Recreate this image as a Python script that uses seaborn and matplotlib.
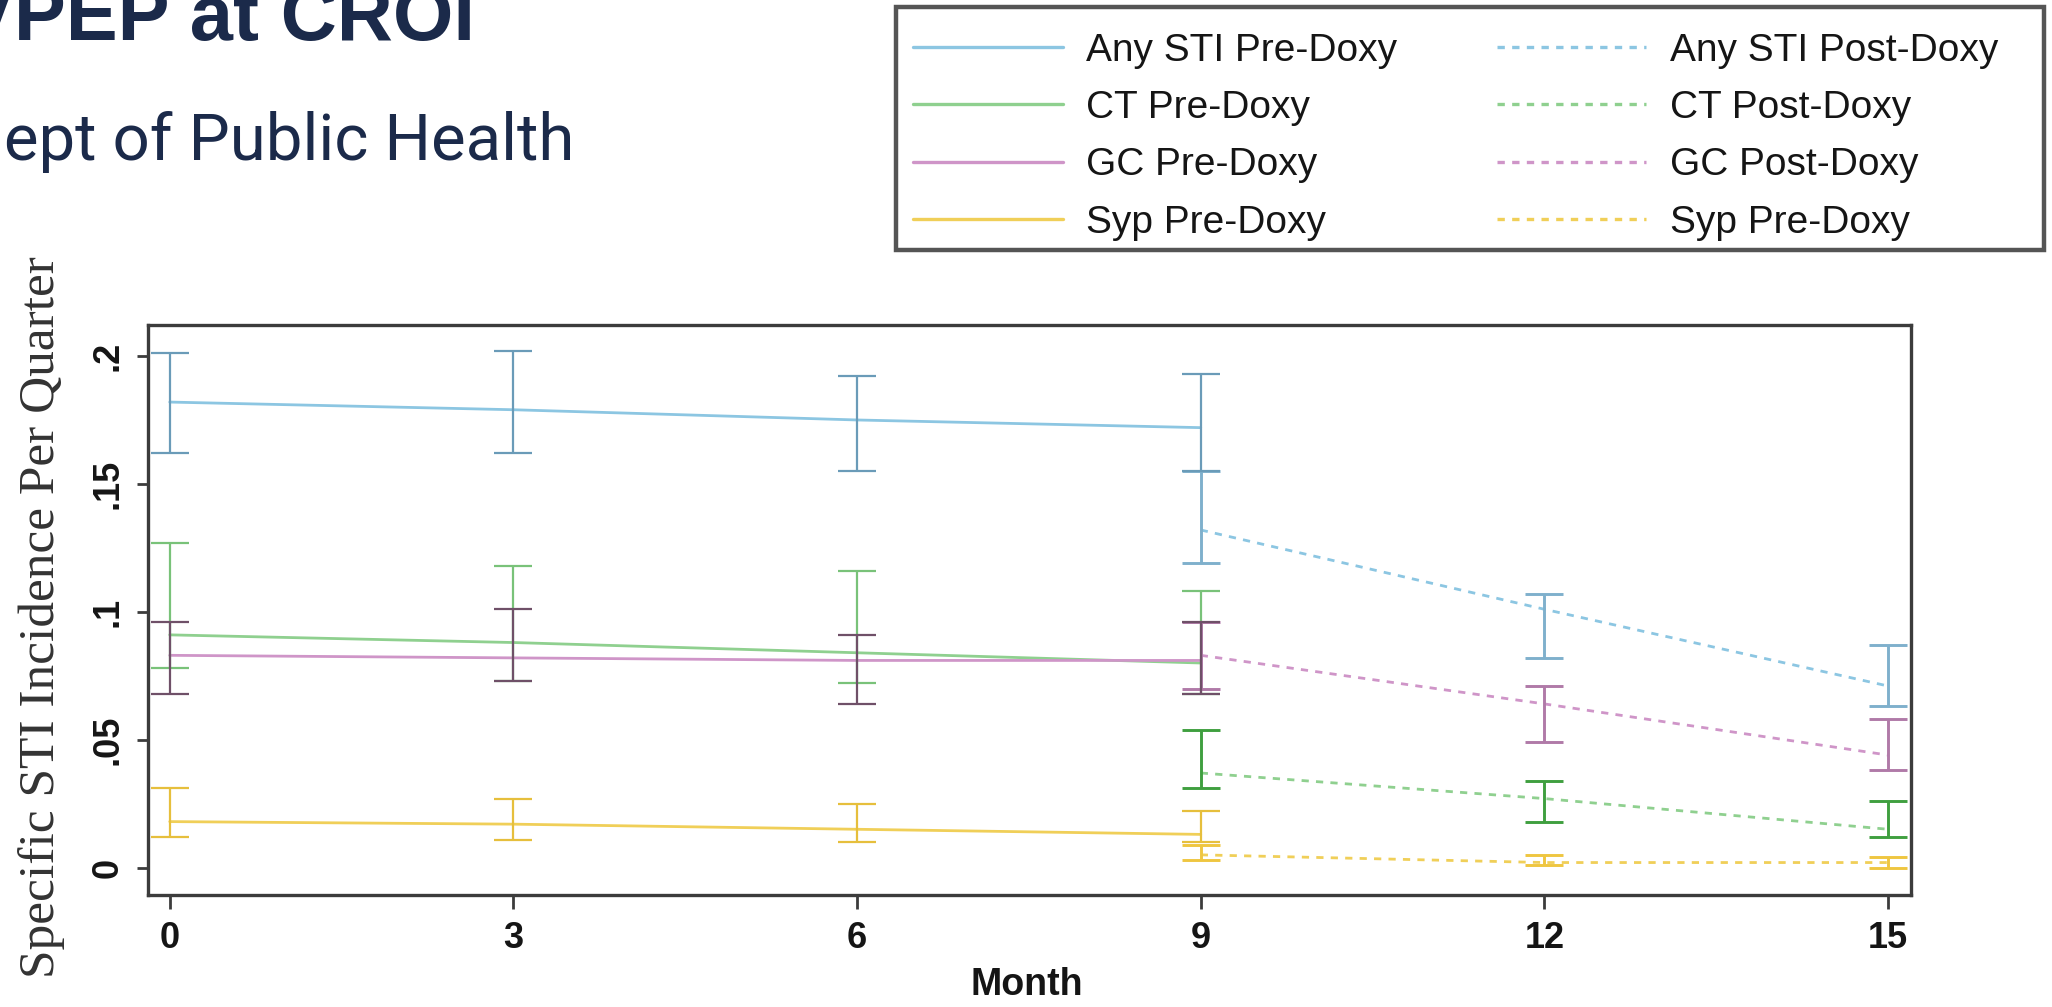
import numpy as np
import pandas as pd
import matplotlib
matplotlib.use("Agg")
import matplotlib.pyplot as plt
from matplotlib.lines import Line2D
from matplotlib.patches import Rectangle
import seaborn as sns

# ---- data: quarterly incidence estimates with 95% CIs ----
months_pre = [0, 3, 6, 9]
months_post = [9, 12, 15]

infections = ["Any STI", "CT", "GC", "Syp"]

any_pre = [0.182, 0.179, 0.175, 0.172]
any_pre_lo = [0.162, 0.162, 0.155, 0.155]
any_pre_hi = [0.201, 0.202, 0.192, 0.193]
ct_pre = [0.091, 0.088, 0.084, 0.080]
ct_pre_lo = [0.078, 0.073, 0.072, 0.068]
ct_pre_hi = [0.127, 0.118, 0.116, 0.108]
gc_pre = [0.083, 0.082, 0.081, 0.081]
gc_pre_lo = [0.068, 0.073, 0.064, 0.068]
gc_pre_hi = [0.096, 0.101, 0.091, 0.096]
syp_pre = [0.018, 0.017, 0.015, 0.013]
syp_pre_lo = [0.012, 0.011, 0.010, 0.010]
syp_pre_hi = [0.031, 0.027, 0.025, 0.022]

any_post = [0.132, 0.101, 0.071]
any_post_lo = [0.119, 0.082, 0.063]
any_post_hi = [0.155, 0.107, 0.087]
ct_post = [0.037, 0.027, 0.015]
ct_post_lo = [0.031, 0.018, 0.012]
ct_post_hi = [0.054, 0.034, 0.026]
gc_post = [0.083, 0.064, 0.044]
gc_post_lo = [0.070, 0.049, 0.038]
gc_post_hi = [0.096, 0.071, 0.058]
syp_post = [0.005, 0.002, 0.002]
syp_post_lo = [0.003, 0.001, 0.000]
syp_post_hi = [0.009, 0.005, 0.004]

legend_pre = ["Any STI Pre-Doxy", "CT Pre-Doxy", "GC Pre-Doxy", "Syp Pre-Doxy"]
legend_post = ["Any STI Post-Doxy", "CT Post-Doxy", "GC Post-Doxy", "Syp Pre-Doxy"]

y_ticks = [0, 0.05, 0.10, 0.15, 0.20]
y_tick_labels = ["0", ".05", ".1", ".15", ".2"]
x_ticks = [0, 3, 6, 9, 12, 15]

# ---- styling ----
line_colors = {"Any STI": "#8cc6e2", "CT": "#8fd08f", "GC": "#cf95c8", "Syp": "#f0cf58"}
ci_pre_colors = {"Any STI": "#6a9bb8", "CT": "#79c279", "GC": "#6f5068", "Syp": "#e6bf3c"}
ci_post_colors = {"Any STI": "#7fb0cc", "CT": "#3f9f3f", "GC": "#b07aa8", "Syp": "#efc640"}
navy = "#1b2a4a"
frame_grey = "#3c3c3c"
text_dark = "#151515"

# ---- tidy table ----
pre_vals = [(any_pre, any_pre_lo, any_pre_hi), (ct_pre, ct_pre_lo, ct_pre_hi),
            (gc_pre, gc_pre_lo, gc_pre_hi), (syp_pre, syp_pre_lo, syp_pre_hi)]
post_vals = [(any_post, any_post_lo, any_post_hi), (ct_post, ct_post_lo, ct_post_hi),
             (gc_post, gc_post_lo, gc_post_hi), (syp_post, syp_post_lo, syp_post_hi)]

rows = []
for name, (v, lo, hi) in zip(infections, pre_vals):
    for m, a, b, c in zip(months_pre, v, lo, hi):
        rows.append(dict(Month=m, Rate=a, Lo=b, Hi=c, Infection=name, Period="Pre"))
for name, (v, lo, hi) in zip(infections, post_vals):
    for m, a, b, c in zip(months_post, v, lo, hi):
        rows.append(dict(Month=m, Rate=a, Lo=b, Hi=c, Infection=name, Period="Post"))
df = pd.DataFrame(rows)

sns.set_style("white")
plt.rcParams["font.family"] = ["Liberation Sans", "DejaVu Sans"]

fig = plt.figure(figsize=(20.52, 10.07), dpi=100)
fig.patch.set_facecolor("white")
ax = fig.add_axes([0.0721, 0.1112, 0.8592, 0.5665])

dash = (2.6, 2.6)
sns.lineplot(data=df, x="Month", y="Rate", hue="Infection", style="Period",
             hue_order=infections, style_order=["Pre", "Post"],
             palette=line_colors, dashes={"Pre": "", "Post": dash},
             errorbar=None, legend=False, linewidth=2.0, ax=ax, zorder=2)

# confidence-interval caps
for (name, period), g in df.groupby(["Infection", "Period"]):
    col = ci_pre_colors[name] if period == "Pre" else ci_post_colors[name]
    lw = 1.6 if period == "Pre" else 2.1
    ax.errorbar(g["Month"], g["Rate"], yerr=[g["Rate"] - g["Lo"], g["Hi"] - g["Rate"]],
                fmt="none", ecolor=col, elinewidth=lw, capsize=14, capthick=lw, zorder=3)

ax.set_xlim(-0.19, 15.2)
ax.set_ylim(-0.0107, 0.2123)
ax.set_xticks(x_ticks)
ax.set_xticklabels([str(t) for t in x_ticks])
ax.set_yticks(y_ticks)
ax.set_yticklabels(y_tick_labels, rotation=90, va="center")

for s in ax.spines.values():
    s.set_color(frame_grey)
    s.set_linewidth(2.4)

ax.tick_params(axis="y", direction="out", length=8, width=2, color=frame_grey,
               labelsize=26, pad=8, labelcolor=text_dark, left=True)
ax.tick_params(axis="x", direction="out", length=10, width=2, color=frame_grey,
               labelsize=26, pad=9, labelcolor=text_dark, bottom=True)
for lab in ax.get_xticklabels() + ax.get_yticklabels():
    lab.set_fontweight("bold")

ax.set_xlabel("Month", fontsize=27, color=text_dark, fontweight="bold")
ax.xaxis.label.set_va("center")
ax.xaxis.set_label_coords(0.4986, -0.158)

ax.set_ylabel("Specific STI Incidence Per Quarter", fontsize=37,
              family=["Liberation Serif", "DejaVu Serif"], color="#333333")
ax.yaxis.label.set_va("center")
ax.yaxis.set_label_coords(-0.0605, 0.4877)

# legend in two columns: pre-period solid, post-period dashed
handles = [Line2D([], [], color=line_colors[n], lw=2.4) for n in infections]
handles += [Line2D([], [], color=line_colors[n], lw=2.4, linestyle=(0, (2.2, 2.2)))
            for n in infections]
leg = fig.legend(handles, legend_pre + legend_post, ncol=2, loc="upper left",
                 bbox_to_anchor=(0.4366, 0.985), borderaxespad=0, fontsize=28,
                 frameon=False, borderpad=0.45, labelspacing=0.55,
                 handlelength=3.85, handletextpad=0.6, columnspacing=2.55)
for t in leg.get_texts():
    t.set_color(text_dark)
fig.add_artist(Rectangle((0.4366, 0.7517), 0.5595, 0.2413, transform=fig.transFigure,
                         fill=False, edgecolor="#555555", linewidth=3.2, zorder=5))

# slide header text, partly cut off at the left edge
fig.text(475 / 2052, 1 - 40 / 1007, "VPEP at CROI", ha="right", va="baseline",
         fontsize=56, fontweight="bold", color=navy,
         family=["Liberation Sans", "DejaVu Sans"])
fig.text(574 / 2052, 1 - 160 / 1007, "Dept of Public Health", ha="right",
         va="baseline", fontsize=47, color=navy, family=["Roboto", "DejaVu Sans"])

fig.savefig("out.png", dpi=100, facecolor="white")
